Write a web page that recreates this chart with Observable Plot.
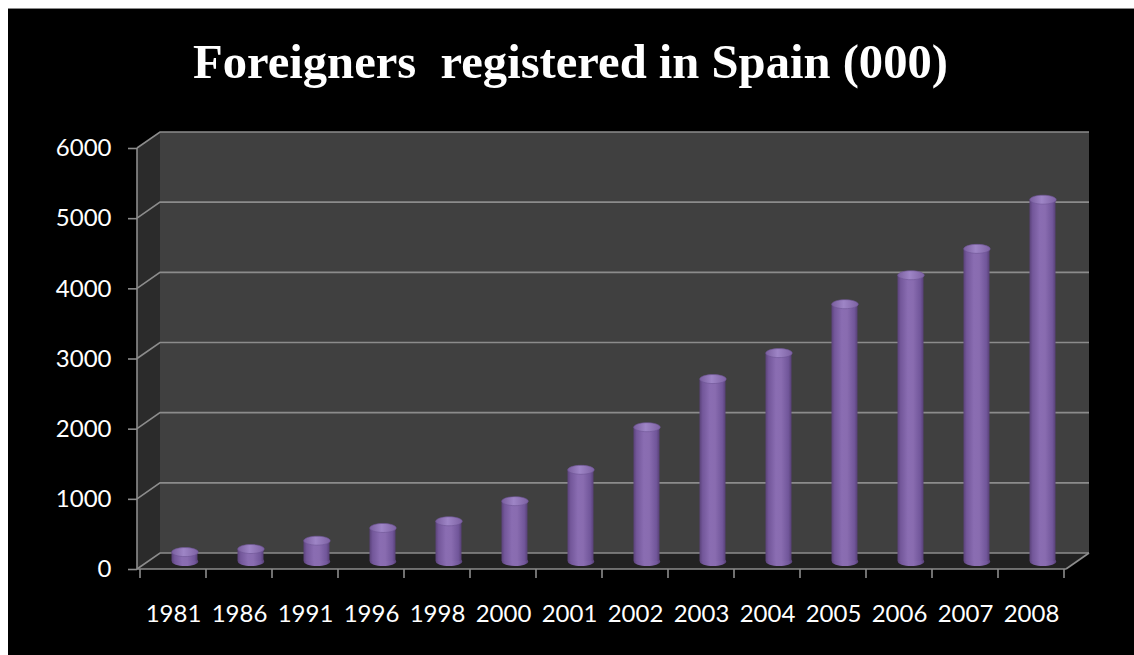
<!DOCTYPE html>
<html>
<head>
<meta charset="utf-8">
<script src="https://cdn.jsdelivr.net/npm/d3@7"></script>
<script src="https://cdn.jsdelivr.net/npm/@observablehq/plot@0.6"></script>
<style>
  html, body { margin: 0; padding: 0; background: #fff; }
  #frame { position: absolute; left: 8px; top: 8px; width: 1126px; height: 647px; background: #000; border-top: 1px solid #8a8a8a; box-sizing: border-box; overflow: hidden; }
  #title { position: absolute; left: 0; top: -1px; }
  #chart { position: absolute; left: 0; top: 99px; }
</style>
</head>
<body>
<div id="frame">
  <div id="title"></div>
  <div id="chart"></div>
</div>
<script>
// ---- data ----
const years = ["1981","1986","1991","1996","1998","2000","2001","2002","2003","2004","2005","2006","2007","2008"];
const values = [198, 242, 361, 542, 637, 924, 1371, 1978, 2664, 3034, 3731, 4144, 4520, 5221];
const yTicks = [0, 1000, 2000, 3000, 4000, 5000, 6000];
const titleText = "Foreigners  registered in Spain (000)";

const data = years.map((year, i) => ({year, value: values[i]}));

// ---- styles ----
const DX = 23, DY = -16;            // depth of the 3-D box
const GRID = "#8c8c8c";
const RX = 13.2, RY = 4.5;          // cylinder cap radii

const ellipse = {
  draw(c) {
    const k = 0.5523;
    c.moveTo(RX, 0);
    c.bezierCurveTo(RX, RY * k, RX * k, RY, 0, RY);
    c.bezierCurveTo(-RX * k, RY, -RX, RY * k, -RX, 0);
    c.bezierCurveTo(-RX, -RY * k, -RX * k, -RY, 0, -RY);
    c.bezierCurveTo(RX * k, -RY, RX, -RY * k, RX, 0);
    c.closePath();
  }
};

function defs() {
  const svg = d3.create("svg:defs");
  const g = svg.append("linearGradient").attr("id", "cyl").attr("x1", 0).attr("x2", 1).attr("y1", 0).attr("y2", 0);
  [[0, "#5a4279"], [0.12, "#73579a"], [0.4, "#8a6db2"], [0.6, "#896cb0"], [0.88, "#71569a"], [1, "#574076"]]
    .forEach(([o, c]) => g.append("stop").attr("offset", o).attr("stop-color", c));
  const t = svg.append("linearGradient").attr("id", "cap").attr("x1", 0).attr("x2", 1).attr("y1", 0).attr("y2", 0);
  [[0, "#7a5f9f"], [0.45, "#9e85c6"], [1, "#7d62a3"]]
    .forEach(([o, c]) => t.append("stop").attr("offset", o).attr("stop-color", c));
  return svg.node();
}

function box(index, scales, vals, dims) {
  const x0 = dims.marginLeft, x1 = dims.width - dims.marginRight;
  const y = scales.y;
  const y0 = y(0), yT = y(6000);
  const g = d3.create("svg:g");
  g.append("rect").attr("x", x0 + DX).attr("y", yT + DY).attr("width", x1 - x0).attr("height", y0 - yT).attr("fill", "#404040");
  g.append("path").attr("d", `M${x0},${y0}L${x0},${yT}L${x0 + DX},${yT + DY}L${x0 + DX},${y0 + DY}Z`).attr("fill", "#2b2b2b");
  g.append("path").attr("d", `M${x0},${y0}L${x0 + DX},${y0 + DY}L${x1 + DX},${y0 + DY}L${x1},${y0}Z`).attr("fill", "#222");
  for (const t of yTicks) {
    const yy = y(t);
    g.append("path").attr("d", `M${x0},${yy}L${x0 + DX},${yy + DY}L${x1 + DX},${yy + DY}`)
      .attr("fill", "none").attr("stroke", GRID).attr("stroke-width", 1.6);
  }
  // floor right edge, front axis lines
  g.append("path").attr("d", `M${x1},${y0}L${x1 + DX},${y0 + DY}`).attr("stroke", GRID).attr("stroke-width", 1.6);
  g.append("path").attr("d", `M${x0},${yT}L${x0},${y0}L${x1},${y0}`).attr("fill", "none").attr("stroke", GRID).attr("stroke-width", 1.6);
  // category ticks at band boundaries
  const bw = scales.x.bandwidth ? scales.x.bandwidth() : 0;
  const bounds = years.map(v => scales.x(v)).concat([scales.x(years[years.length - 1]) + bw]);
  for (const bx of bounds) {
    g.append("path").attr("d", `M${bx},${y0}L${bx},${y0 + 9}`).attr("stroke", GRID).attr("stroke-width", 1.6);
  }
  return g.node();
}

const chart = Plot.plot({
  width: 1126,
  height: 548,
  marginLeft: 129,
  marginRight: 68,
  marginTop: 40,
  marginBottom: 87,
  style: {background: "transparent", color: "#fff", fontFamily: "Lato, 'Open Sans', sans-serif"},
  x: {type: "band", domain: years, padding: 0, axis: null},
  y: {domain: [0, 6000], axis: null},
  marks: [
    defs,
    box,
    Plot.dot(data, {x: "year", y: 0, symbol: ellipse, r: 5, fill: "url(#cyl)", stroke: null, dx: DX / 2, dy: DY / 2}),
    Plot.barY(data, {x: "year", y: "value", fill: "url(#cyl)", insetLeft: 20, insetRight: 20, insetTop: RY, dx: DX / 2, dy: DY / 2}),
    Plot.dot(data, {x: "year", y: "value", symbol: ellipse, r: 5, fill: "url(#cap)", stroke: "#6d5494", strokeWidth: 0.6, dx: DX / 2, dy: DY / 2 + RY}),
    Plot.axisY(yTicks, {anchor: "left", tickSize: 9, tickPadding: 17, fontSize: 24, stroke: GRID, strokeWidth: 1.6, fill: "#fff", tickFormat: d => String(d), label: null}),
    Plot.axisX({anchor: "bottom", tickSize: 0, tickPadding: 35, fontSize: 24, fill: "#fff", label: null})
  ]
});
document.getElementById("chart").appendChild(chart);

// ---- title ----
const tsvg = d3.create("svg").attr("width", 1126).attr("height", 100);
tsvg.append("text")
  .attr("x", 185).attr("y", 70)
  .attr("fill", "#fff")
  .attr("font-family", "'Liberation Serif', 'Times New Roman', serif")
  .attr("font-weight", "bold")
  .attr("font-size", 48)
  .attr("textLength", 755)
  .attr("lengthAdjust", "spacingAndGlyphs")
  .style("white-space", "pre")
  .text(titleText);
document.getElementById("title").appendChild(tsvg.node());
</script>
</body>
</html>
